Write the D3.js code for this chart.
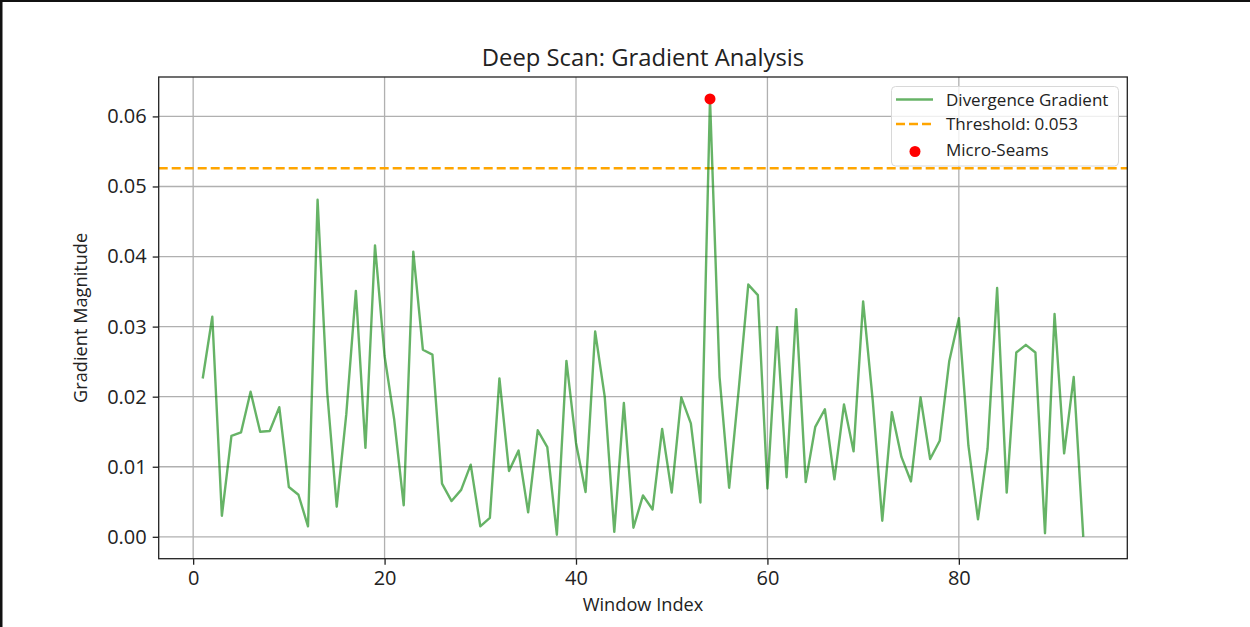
<!DOCTYPE html>
<html><head><meta charset="utf-8">
<script src="https://cdn.jsdelivr.net/npm/d3@7"></script>
<style>body{margin:0;background:#fff;} svg{display:block;font-family:"Open Sans","Noto Sans",sans-serif;}</style>
</head><body><svg id="c" width="1250" height="627"></svg>
<script>
const windowIndex = d3.range(1, 94);
const gradient = [0.0226,0.0314,0.0030,0.0144,0.0149,0.0207,0.0150,0.0151,0.0185,0.0071,
0.0060,0.0015,0.0481,0.0207,0.0043,0.0175,0.0351,0.0127,0.0416,0.0258,
0.0168,0.0045,0.0407,0.0267,0.0260,0.0076,0.0051,0.0067,0.0103,0.0015,
0.0027,0.0226,0.0094,0.0123,0.0035,0.0152,0.0128,0.0003,0.0251,0.0134,
0.0064,0.0293,0.0200,0.0007,0.0191,0.0013,0.0059,0.0039,0.0154,0.0063,
0.0199,0.0162,0.0049,0.0625,0.0228,0.0070,0.0210,0.0360,0.0345,0.0069,
0.0299,0.0085,0.0325,0.0078,0.0157,0.0182,0.0082,0.0189,0.0122,0.0336,
0.0195,0.0023,0.0178,0.0114,0.0079,0.0199,0.0111,0.0137,0.0251,0.0312,
0.0130,0.0025,0.0126,0.0355,0.0063,0.0263,0.0274,0.0263,0.0005,0.0318,
0.0119,0.0228,0.0000];
const threshold = 0.0526;
const seamIndex = [54];
const seamValue = [0.0625];
const xTicks = [0,20,40,60,80];
const yTicks = [0,0.01,0.02,0.03,0.04,0.05,0.06];
const legendLabels = ["Divergence Gradient","Threshold: 0.053","Micro-Seams"];

const FONT = "'Open Sans','Noto Sans',sans-serif";
const svg = d3.select("#c");
const L=158.7, R=1127.3, T=77, B=558.7;
const x = d3.scaleLinear().domain([-3.6, 97.6]).range([L,R]);
const y = d3.scaleLinear().domain([-0.003125, 0.065625]).range([B,T]);

// outer border
svg.append("rect").attr("x",0).attr("y",0).attr("width",1250).attr("height",2).attr("fill","#111");
svg.append("rect").attr("x",0).attr("y",0).attr("width",2.5).attr("height",627).attr("fill","#111");

// grid
const g = svg.append("g");
g.selectAll(".gx").data(xTicks).join("line")
 .attr("x1",d=>x(d)).attr("x2",d=>x(d)).attr("y1",T).attr("y2",B)
 .attr("stroke","#b0b0b0").attr("stroke-width",1.3);
g.selectAll(".gy").data(yTicks).join("line")
 .attr("y1",d=>y(d)).attr("y2",d=>y(d)).attr("x1",L).attr("x2",R)
 .attr("stroke","#b0b0b0").attr("stroke-width",1.3);

// threshold
svg.append("line").attr("x1",L).attr("x2",R).attr("y1",y(threshold)).attr("y2",y(threshold))
 .attr("stroke","#FFA500").attr("stroke-width",2.4).attr("stroke-dasharray","9,4");

// series line
const line = d3.line().x((d,i)=>x(windowIndex[i])).y(d=>y(d));
svg.append("path").datum(gradient).attr("d",line).attr("fill","none")
 .attr("stroke","#008000").attr("stroke-opacity",0.6).attr("stroke-width",2.4).attr("stroke-linejoin","round");

// seams
svg.selectAll(".seam").data(seamIndex).join("circle")
 .attr("cx",d=>x(d)).attr("cy",(d,i)=>y(seamValue[i])).attr("r",5.5).attr("fill","red");

// axes
const xa = svg.append("g").attr("transform",`translate(0,${B})`)
 .call(d3.axisBottom(x).tickValues(xTicks).tickSize(6).tickPadding(6).tickFormat(d3.format("d")));
const ya = svg.append("g").attr("transform",`translate(${L},0)`)
 .call(d3.axisLeft(y).tickValues(yTicks).tickSize(6).tickPadding(6).tickFormat(d3.format(".2f")));
[xa,ya].forEach(a=>{
  a.select(".domain").remove();
  a.selectAll("line").attr("stroke","#222").attr("stroke-width",1.3);
  a.selectAll("text").attr("font-size",20).attr("fill","#222").attr("font-family",FONT);
});
// frame
svg.append("rect").attr("x",L).attr("y",T).attr("width",R-L).attr("height",B-T)
 .attr("fill","none").attr("stroke","#222").attr("stroke-width",1.3);

// labels
svg.append("text").attr("x",(L+R)/2).attr("y",66).attr("text-anchor","middle")
 .attr("font-size",23.8).attr("fill","#222").text("Deep Scan: Gradient Analysis");
svg.append("text").attr("x",(L+R)/2).attr("y",611).attr("text-anchor","middle")
 .attr("font-size",18.2).attr("fill","#222").text("Window Index");
svg.append("text").attr("transform",`translate(87,${(T+B)/2}) rotate(-90)`).attr("text-anchor","middle")
 .attr("font-size",18.2).attr("fill","#222").text("Gradient Magnitude");

// legend
const lg = svg.append("g");
lg.append("rect").attr("x",891.5).attr("y",86.5).attr("width",227).attr("height",79.5).attr("rx",4)
 .attr("fill","white").attr("fill-opacity",0.8).attr("stroke","#d8d8d8").attr("stroke-width",1);
const rows=[99.5,124,150];
lg.append("line").attr("x1",896).attr("x2",933).attr("y1",rows[0]).attr("y2",rows[0])
 .attr("stroke","#008000").attr("stroke-opacity",0.6).attr("stroke-width",2.4);
lg.append("line").attr("x1",896).attr("x2",933).attr("y1",rows[1]).attr("y2",rows[1])
 .attr("stroke","#FFA500").attr("stroke-width",2.4).attr("stroke-dasharray","9,4");
lg.append("circle").attr("cx",915).attr("cy",rows[2]+1.5).attr("r",5.5).attr("fill","red");
lg.selectAll(".lt").data(legendLabels).join("text")
 .attr("x",946).attr("y",(d,i)=>rows[i]+6).attr("font-size",17).attr("fill","#222").text(d=>d);
</script></body></html>
